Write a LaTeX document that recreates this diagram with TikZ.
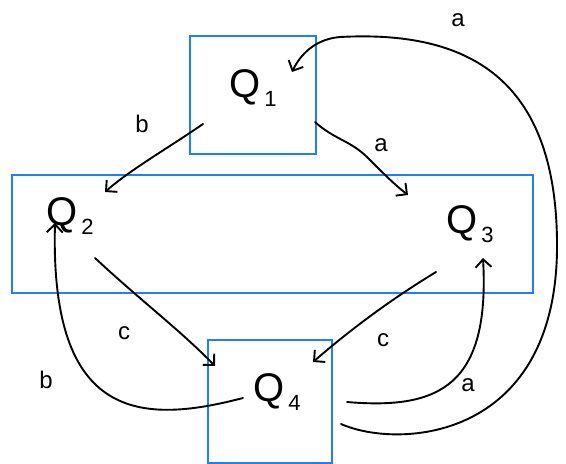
\documentclass[tikz,border=0pt]{standalone}
\usepackage{fontspec}
\setmainfont{Liberation Sans}
\usetikzlibrary{arrows.meta}
\definecolor{boxblue}{RGB}{30,128,250}
\tikzset{
  frame/.style={draw=boxblue, line width=1.6pt},
  state/.style={inner sep=0pt, font=\fontsize{40}{42}\selectfont},
  lbl/.style={inner sep=0pt, font=\fontsize{24}{26}\selectfont},
  trans/.style={line width=1.9pt, line cap=round, -{Straight Barb[length=8pt,width=16pt,line width=1.9pt]}}
}
\newcommand{\qsub}[1]{\raisebox{-9pt}{\fontsize{22}{22}\selectfont\,#1}}
\begin{document}
\begin{tikzpicture}[x=1pt,y=-1pt]
\useasboundingbox (0,0) rectangle (566,464);
% boxes
\draw[frame] (190,36) rectangle (316,154);
\draw[frame] (12,175) rectangle (533,293);
\draw[frame] (208,340) rectangle (332,463);
% states
\node[state] (q1) at (253,88) {Q\qsub{1}};
\node[state] (q2) at (70,216) {Q\qsub{2}};
\node[state] (q3) at (470,224) {Q\qsub{3}};
\node[state] (q4) at (277,392) {Q\qsub{4}};
% endpoints
\coordinate (s12) at (203,124); \coordinate (e12) at (105,192);
\coordinate (s13) at (315,122); \coordinate (e13) at (408,195);
\coordinate (s24) at (95,258);  \coordinate (e24) at (215,366);
\coordinate (s34) at (436,272); \coordinate (e34) at (313,362);
\coordinate (s42) at (243,398); \coordinate (e42) at (55,223);
\coordinate (s43) at (347,402); \coordinate (e43) at (483,258);
\coordinate (s41) at (341,424); \coordinate (e41) at (292,72);
% transitions
\draw[trans] (s12) .. controls (165,150) and (130,170) .. (e12);
\draw[trans] (s13) .. controls (335,140) and (350,140) .. (368,158) .. controls (385,175) and (395,185) .. (e13);
\draw[trans] (s24) .. controls (140,300) and (180,330) .. (e24);
\draw[trans] (s34) .. controls (390,300) and (350,330) .. (e34);
\draw[trans] (s42) .. controls (140,425) and (50,420) .. (e42);
\draw[trans] (s43) .. controls (440,410) and (490,385) .. (e43);
\draw[trans] (s41) .. controls (400,450) and (560,440) .. (557,240) .. controls (555,80) and (470,30) .. (340,37) .. controls (315,39) and (300,55) .. (e41);
% labels
\node[lbl] (la1) at (458,20) {a};
\node[lbl] (lb1) at (142,124) {b};
\node[lbl] (la2) at (381,145) {a};
\node[lbl] (lc1) at (124,333) {c};
\node[lbl] (lc2) at (383,340) {c};
\node[lbl] (lb2) at (46,380) {b};
\node[lbl] (la3) at (468,385) {a};
\end{tikzpicture}
\end{document}
